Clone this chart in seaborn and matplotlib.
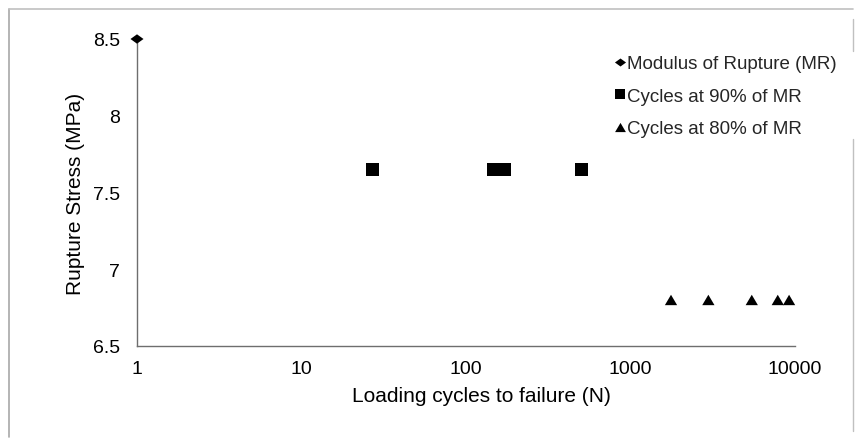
import matplotlib
matplotlib.use("Agg")
import matplotlib.pyplot as plt
import numpy as np
import pandas as pd
import seaborn as sns
from matplotlib.lines import Line2D

# ---- data ----
series_names = ["Modulus of Rupture (MR)", "Cycles at 90% of MR", "Cycles at 80% of MR"]
mr_cycles = [1]
mr_stress = [8.5]
c90_cycles = [27, 146, 171, 507]
c90_stress = [7.65, 7.65, 7.65, 7.65]
c80_cycles = [1763, 2974, 5460, 7855, 9205]
c80_stress = [6.8, 6.8, 6.8, 6.8, 6.8]
x_ticks = [1, 10, 100, 1000, 10000]
x_tick_labels = ["1", "10", "100", "1000", "10000"]
y_ticks = [6.5, 7, 7.5, 8, 8.5]
y_tick_labels = ["6.5", "7", "7.5", "8", "8.5"]
x_label = "Loading cycles to failure (N)"
y_label = "Rupture Stress (MPa)"

sns.set_theme(style="white")
plt.rcParams["font.family"] = ["Liberation Sans", "DejaVu Sans"]

df = pd.concat([
    pd.DataFrame({"cycles": mr_cycles, "stress": mr_stress, "series": series_names[0]}),
    pd.DataFrame({"cycles": c90_cycles, "stress": c90_stress, "series": series_names[1]}),
    pd.DataFrame({"cycles": c80_cycles, "stress": c80_stress, "series": series_names[2]}),
], ignore_index=True)

W, H = 864, 439
fig = plt.figure(figsize=(W / 100, H / 100), dpi=100)
ax = fig.add_axes([137 / W, 1 - 347 / H, (795 - 137) / W, (347 - 40) / H])

diamond = [(-1, 0), (0, 0.72), (1, 0), (0, -0.72), (-1, 0)]
triangle = [(-1, -0.85), (1, -0.85), (0, 0.85), (-1, -0.85)]
marker_map = {series_names[0]: diamond, series_names[1]: "s", series_names[2]: triangle}
size_map = {series_names[0]: 88, series_names[1]: 88, series_names[2]: 78}

for name in series_names:
    sub = df[df["series"] == name]
    sns.scatterplot(data=sub, x="cycles", y="stress", marker=marker_map[name],
                    s=size_map[name], color="black", edgecolor="none",
                    linewidth=0, ax=ax, legend=False, clip_on=False, zorder=3)

ax.set_xscale("log")
ax.set_xlim(1, 10000)
ax.set_ylim(6.5, 8.5)
ax.set_xticks(x_ticks)
ax.set_xticklabels(x_tick_labels)
ax.set_yticks(y_ticks)
ax.set_yticklabels(y_tick_labels)
ax.xaxis.set_minor_locator(matplotlib.ticker.NullLocator())

ax.grid(False)
for s in ["top", "right"]:
    ax.spines[s].set_visible(False)
for s in ["left", "bottom"]:
    ax.spines[s].set_color("#6e6e6e")
    ax.spines[s].set_linewidth(1.0)

ax.tick_params(axis="both", which="major", direction="out", length=4, width=1,
               color="#6e6e6e", labelsize=14, labelcolor="black")
ax.tick_params(axis="y", pad=8)
ax.tick_params(axis="x", pad=6)

ax.set_xlabel(x_label, fontsize=15, color="black", labelpad=8)
ax.xaxis.set_label_coords((481 - 137) / (795 - 137), -0.13)
ax.xaxis.label.set_va("top")
ax.set_ylabel(y_label, fontsize=15, color="black", labelpad=6)

handles = [
    Line2D([], [], linestyle="none", marker=diamond, markersize=8, color="black", markeredgewidth=0),
    Line2D([], [], linestyle="none", marker="s", markersize=7.8, color="black", markeredgewidth=0),
    Line2D([], [], linestyle="none", marker=triangle, markersize=7.8, color="black", markeredgewidth=0),
]
leg = ax.legend(handles, series_names, loc="upper left",
                bbox_to_anchor=(614 / W, 1 - 56 / H), bbox_transform=fig.transFigure,
                frameon=False, fontsize=13.5, handlelength=0.6, handletextpad=0.1,
                labelspacing=0.82, borderpad=0, borderaxespad=0)

# chart-area border (light gray), with a gap where the legend overlaps on the right
bc = "#c0c0c0"
fig.add_artist(Line2D([9 / W, 9 / W], [1 - 10 / H, 1 - 438 / H], transform=fig.transFigure, color="#a8a8a8", lw=1.2))
fig.add_artist(Line2D([9 / W, 853 / W], [1 - 10 / H, 1 - 10 / H], transform=fig.transFigure, color=bc, lw=1.2))
fig.add_artist(Line2D([853 / W, 853 / W], [1 - 20 / H, 1 - 52 / H], transform=fig.transFigure, color=bc, lw=1.0))
fig.add_artist(Line2D([853 / W, 853 / W], [1 - 140 / H, 1 - 432 / H], transform=fig.transFigure, color=bc, lw=1.0))

fig.savefig("out.png", dpi=100)
